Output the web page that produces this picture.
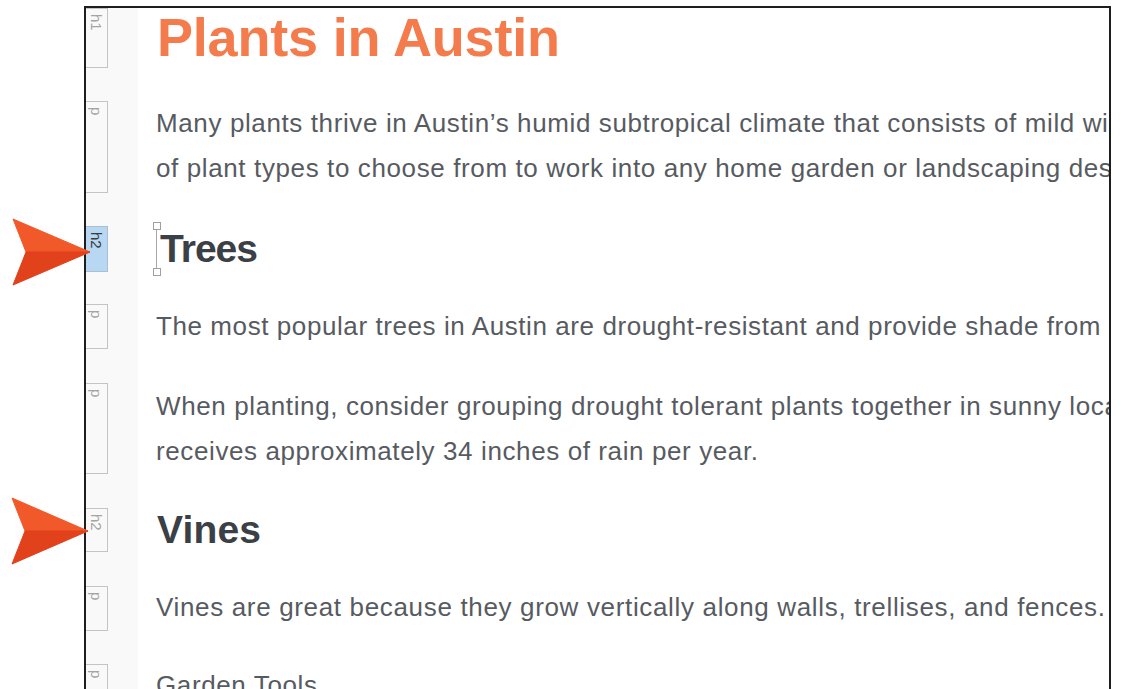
<!DOCTYPE html>
<html>
<head>
<meta charset="utf-8">
<script src="https://cdn.jsdelivr.net/npm/chart.js@4.4.0/dist/chart.umd.min.js"></script>
<style>
  html, body { margin:0; padding:0; background:#fff; }
  body { width:1121px; height:689px; position:relative; overflow:hidden; font-family:"Liberation Sans", Arial, sans-serif; }
  #frame { position:absolute; left:84px; top:6px; width:1023px; height:700px; border-left:2px solid #1e1e1e; border-top:2px solid #1e1e1e; border-right:2px solid #1e1e1e; overflow:hidden; background:#fff; }
  #gutter { position:absolute; left:0; top:0; width:52px; height:100%; background:#f9f9f9; }
  .tag { position:absolute; left:0; width:22px; border:1px solid #c4c4c4; border-left:none; background:#f9f9f9; box-sizing:border-box; }
  .tag.sel { background:#b7d7f3; border-color:#a9bfd2; }
  .tag span { position:absolute; left:2px; top:5px; font-size:15px; color:#a4a4a4; transform-origin:0 0; transform:translate(16px,0) rotate(90deg); white-space:nowrap; line-height:15px; }
  .tag.sel span { color:#3a3a3a; }
  .line { position:absolute; white-space:nowrap; }
  .p { font-size:26px; color:#575b61; line-height:26px; }
  .h1 { font-size:54px; color:#f47b4c; font-weight:bold; line-height:54px; }
  .h2 { font-size:39px; color:#3b3f46; font-weight:bold; line-height:39px; }
  #cursor { position:absolute; width:0; border-left:1.5px solid #a8a8a8; }
  .handle { position:absolute; width:6px; height:6px; border:1px solid #a0a0a0; background:#fff; }
</style>
</head>
<body>
<svg id="arrows" width="120" height="689" style="position:absolute;left:0;top:0;z-index:5"></svg>
<div id="frame">
  <div id="gutter"></div>
</div>
<script>
// Document content (text and block tags)
const tagLabels = ["h1", "p", "h2", "p", "p", "h2", "p", "p"];
const tagTops    = [8, 101, 226, 304, 383, 508, 586, 664];
const tagBottoms = [68, 193, 272, 349, 474, 552, 631, 720];
const selectedTag = 2;

const lineKinds = ["h1", "p", "p", "h2", "p", "p", "p", "h2", "p", "p"];
const lineTexts = [
  "Plants in Austin",
  "Many plants thrive in Austin\u2019s humid subtropical climate that consists of mild wi",
  "of plant types to choose from to work into any home garden or landscaping des",
  "Trees",
  "The most popular trees in Austin are drought-resistant and provide shade from",
  "When planting, consider grouping drought tolerant plants together in sunny loca",
  "receives approximately 34 inches of rain per year.",
  "Vines",
  "Vines are great because they grow vertically along walls, trellises, and fences.",
  "Garden Tools"
];
const lineBaselines = [56, 132, 177, 262, 335, 415, 460, 543, 616, 694];
const lineStarts    = [157, 156, 156, 160, 156, 156, 156, 157, 156, 156];
// visible fit: [substring that ends at a known x, that end x] or null
const lineFits = [
  ["Plants in Austin", 562],
  null,
  null,
  ["Trees", 258],
  ["The most popular trees in Austin are drought-resistant and provide shade from", 1102],
  null,
  ["receives approximately 34 inches of rain per year.", 758],
  ["Vines", 261],
  ["Vines are great because they grow vertically along walls, trellises, and fences.", 1105],
  null
];

const FX = 86, FY = 8; // inner origin of frame (page coords)
const frame = document.getElementById('frame');

tagLabels.forEach((t, i) => {
  const d = document.createElement('div');
  d.className = 'tag' + (i === selectedTag ? ' sel' : '');
  d.style.top = (tagTops[i] - FY) + 'px';
  d.style.height = (tagBottoms[i] - tagTops[i]) + 'px';
  const s = document.createElement('span');
  s.textContent = t;
  d.appendChild(s);
  frame.appendChild(d);
});

const cv = document.createElement('canvas').getContext('2d');
function fontFor(kind) {
  if (kind === 'h1') return 'bold 54px "Liberation Sans"';
  if (kind === 'h2') return 'bold 39px "Liberation Sans"';
  return '26px "Liberation Sans"';
}
function fitSpacing(kind, fit, start) {
  cv.font = fontFor(kind);
  const w = cv.measureText(fit[0]).width;
  return (fit[1] - start - w) / (fit[0].length - 1);
}
let pSp = [];
lineFits.forEach((f, i) => { if (f && lineKinds[i] === 'p') pSp.push(fitSpacing('p', f, lineStarts[i])); });
const pAvg = pSp.reduce((a, b) => a + b, 0) / pSp.length;

lineTexts.forEach((t, i) => {
  const kind = lineKinds[i];
  const d = document.createElement('div');
  d.className = 'line ' + kind;
  const size = kind === 'h1' ? 54 : kind === 'h2' ? 39 : 26;
  d.style.left = (lineStarts[i] - FX) + 'px';
  d.style.top = (lineBaselines[i] - FY - 0.8465 * size) + 'px';
  const ls = lineFits[i] ? fitSpacing(kind, lineFits[i], lineStarts[i]) : pAvg;
  d.style.letterSpacing = ls.toFixed(3) + 'px';
  d.textContent = t;
  frame.appendChild(d);
});

// cursor with handles on the selected heading
const cur = document.createElement('div');
cur.id = 'cursor';
cur.style.left = (156 - FX) + 'px';
cur.style.top = (226 - FY) + 'px';
cur.style.height = '43px';
frame.appendChild(cur);
[[153, 222], [153, 268]].forEach(p => {
  const h = document.createElement('div');
  h.className = 'handle';
  h.style.left = (p[0] - FX) + 'px';
  h.style.top = (p[1] - FY) + 'px';
  frame.appendChild(h);
});

// pointer arrows
const svg = document.getElementById('arrows');
const arrowDefs = [
  { tip: [90, 252], back: 13, half: 33, notch: 26 },
  { tip: [88, 531], back: 12, half: 33, notch: 25 }
];
arrowDefs.forEach(a => {
  const [tx, ty] = a.tip;
  const top = `${a.back},${ty - a.half} ${tx},${ty} ${a.notch},${ty}`;
  const bot = `${a.notch},${ty} ${tx},${ty} ${a.back},${ty + a.half}`;
  svg.insertAdjacentHTML('beforeend',
    `<polygon points="${top}" fill="#f2592a" stroke="#f2592a" stroke-width="1" stroke-linejoin="round"/>` +
    `<polygon points="${bot}" fill="#e1411b" stroke="#e1411b" stroke-width="1" stroke-linejoin="round"/>`);
});
</script>
</body>
</html>
